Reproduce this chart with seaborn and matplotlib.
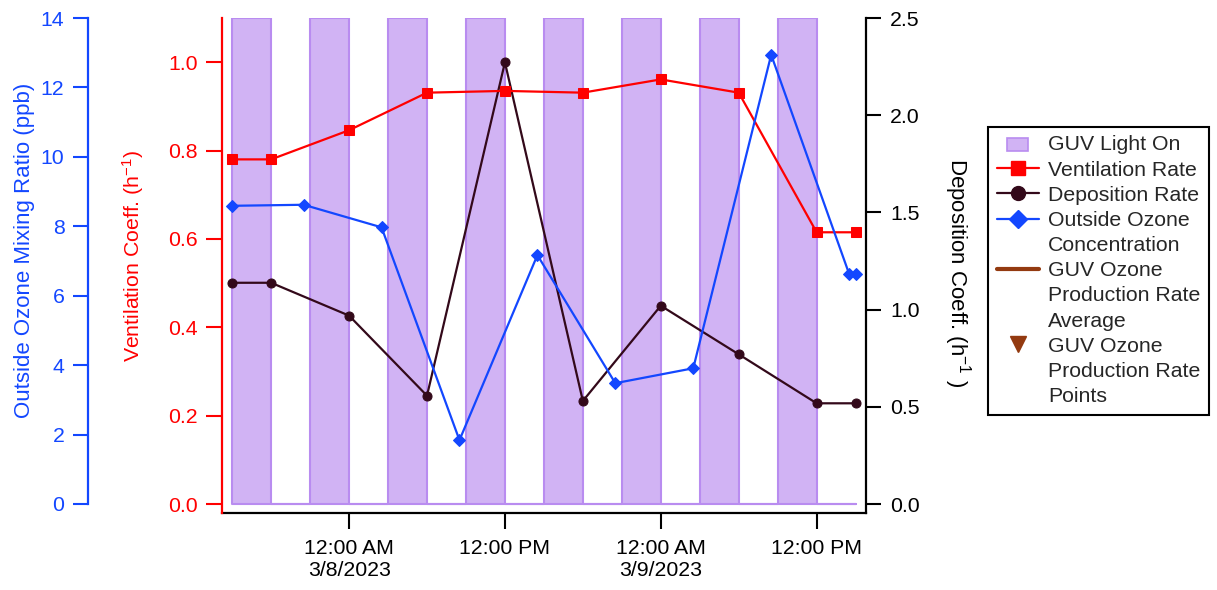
import numpy as np
import pandas as pd
import matplotlib
matplotlib.use("Agg")
import matplotlib.pyplot as plt
from matplotlib.lines import Line2D
from matplotlib.patches import Patch, Rectangle
from matplotlib.legend_handler import HandlerPatch
from matplotlib.ticker import FormatStrFormatter
import seaborn as sns

# ---------------- data ----------------
light_times = ["2023-03-07 15:00", "2023-03-07 18:00", "2023-03-07 21:00", "2023-03-08 00:00",
               "2023-03-08 03:00", "2023-03-08 06:00", "2023-03-08 09:00", "2023-03-08 12:00",
               "2023-03-08 15:00", "2023-03-08 18:00", "2023-03-08 21:00", "2023-03-09 00:00",
               "2023-03-09 03:00", "2023-03-09 06:00", "2023-03-09 09:00", "2023-03-09 12:00",
               "2023-03-09 15:00"]
light_on = [1, 0, 1, 0, 1, 0, 1, 0, 1, 0, 1, 0, 1, 0, 1, 0, 0]

rate_times = ["2023-03-07 15:00", "2023-03-07 18:00", "2023-03-08 00:00", "2023-03-08 06:00",
              "2023-03-08 12:00", "2023-03-08 18:00", "2023-03-09 00:00", "2023-03-09 06:00",
              "2023-03-09 12:00", "2023-03-09 15:00"]
ventilation_rate = [0.780, 0.780, 0.846, 0.931, 0.935, 0.931, 0.961, 0.931, 0.615, 0.615]
deposition_rate = [1.138, 1.138, 0.969, 0.557, 2.272, 0.530, 1.020, 0.770, 0.518, 0.518]

ozone_times = ["2023-03-07 15:00", "2023-03-07 20:30", "2023-03-08 02:30", "2023-03-08 08:30",
               "2023-03-08 14:30", "2023-03-08 20:30", "2023-03-09 02:30", "2023-03-09 08:30",
               "2023-03-09 14:30", "2023-03-09 15:00"]
ozone_ppb = [8.59, 8.62, 7.97, 1.84, 7.17, 3.48, 3.91, 12.94, 6.63, 6.63]

x_ticks = ["2023-03-08 00:00", "2023-03-08 12:00", "2023-03-09 00:00", "2023-03-09 12:00"]
x_tick_labels = ["12:00 AM\n3/8/2023", "12:00 PM", "12:00 AM\n3/9/2023", "12:00 PM"]
x_limits = ["2023-03-07 14:13", "2023-03-09 15:48"]

# legend: each entry's text lines (first line carries the symbol)
legend_entries = [["GUV Light On"], ["Ventilation Rate"], ["Deposition Rate"],
                  ["Outside Ozone", "Concentration"],
                  ["GUV Ozone", "Production Rate", "Average"],
                  ["GUV Ozone", "Production Rate", "Points"]]

# ---------------- style ----------------
sns.set_theme(style="ticks")
plt.rcParams["font.family"] = ["Liberation Sans", "DejaVu Sans"]
plt.rcParams["mathtext.fontset"] = "custom"
plt.rcParams["mathtext.rm"] = "Liberation Sans"
plt.rcParams["mathtext.it"] = "Liberation Sans"
plt.rcParams["mathtext.bf"] = "Liberation Sans"

RED = "#FF0000"
BLUE = "#1347FF"
DARK = "#33091A"
BROWN = "#933A10"
FILL = "#D1B3F4"
EDGE = "#B98CF0"
FS = 15.3
PX = 72 / 100  # points per pixel

fig = plt.figure(figsize=(12.17, 5.90), dpi=100)
W, H = 1217, 590
ax = fig.add_axes([222 / W, (H - 513) / H, (866 - 222) / W, (513 - 18) / H])
ax_dep = ax.twinx()
ax_vent = ax.twinx()
ax_oz = ax.twinx()

# light on/off steps
lt = pd.to_datetime(light_times)
ax.fill_between(lt, light_on, step="post", facecolor=FILL, edgecolor=EDGE, linewidth=1.5)
ax.set_ylim(-9 / 486, 1)
ax.set_yticks([])
for s in ["left", "right", "top"]:
    ax.spines[s].set_visible(False)
ax.spines["bottom"].set_color("black")
ax.spines["bottom"].set_linewidth(1.6)

# series
rt = pd.to_datetime(rate_times)
ot = pd.to_datetime(ozone_times)
sns.lineplot(x=rt, y=deposition_rate, ax=ax_dep, color=DARK, marker="o", markersize=6.5,
             markeredgecolor=DARK, linewidth=1.6, legend=False)
sns.lineplot(x=rt, y=ventilation_rate, ax=ax_vent, color=RED, marker="s", markersize=7,
             markeredgecolor=RED, linewidth=1.6, legend=False)
sns.lineplot(x=ot, y=ozone_ppb, ax=ax_oz, color=BLUE, marker="D", markersize=6.5,
             markeredgecolor=BLUE, linewidth=1.6, legend=False)

# x axis
ax.set_xlim(pd.to_datetime(x_limits[0]), pd.to_datetime(x_limits[1]))
ax.set_xticks(pd.to_datetime(x_ticks))
ax.set_xticklabels(x_tick_labels)
ax.tick_params(axis="x", length=11.5, width=1.5, colors="black", labelsize=FS, pad=7,
               direction="out")
ax.set_xlabel("")

# deposition axis (right)
ax_dep.set_ylim(-9 / 194.4, 2.5)
ax_dep.set_yticks(np.arange(0, 2.51, 0.5))
ax_dep.yaxis.set_major_formatter(FormatStrFormatter("%.1f"))
for s in ["left", "top", "bottom"]:
    ax_dep.spines[s].set_visible(False)
ax_dep.spines["right"].set_color("black")
ax_dep.spines["right"].set_linewidth(1.6)
ax_dep.tick_params(axis="y", length=10.5, width=1.5, colors="black", labelsize=FS, pad=7,
                   direction="out")
ax_dep.set_ylabel("Deposition Coeff. (h$^{-1}$ )", fontsize=16, color="black", rotation=270,
                  va="bottom")
ax_dep.yaxis.set_label_coords(1.118, 0.485)

# ventilation axis (left)
ax_vent.yaxis.tick_left()
ax_vent.yaxis.set_label_position("left")
ax_vent.set_ylim(-9 / 442, 1.1)
ax_vent.set_yticks(np.arange(0, 1.01, 0.2))
ax_vent.yaxis.set_major_formatter(FormatStrFormatter("%.1f"))
for s in ["right", "top", "bottom"]:
    ax_vent.spines[s].set_visible(False)
ax_vent.spines["left"].set_visible(True)
ax_vent.spines["left"].set_color(RED)
ax_vent.spines["left"].set_linewidth(1.6)
ax_vent.tick_params(axis="y", length=11.5, width=1.5, colors=RED, labelsize=FS, pad=6,
                    direction="out")
ax_vent.set_ylabel("Ventilation Coeff. (h$^{-1}$)", fontsize=FS, color=RED)
ax_vent.yaxis.set_label_coords(-0.118, 0.52)

# ozone axis (far left)
ax_oz.yaxis.tick_left()
ax_oz.yaxis.set_label_position("left")
ax_oz.set_ylim(-9 / 34.714, 14)
ax_oz.set_yticks(np.arange(0, 14.1, 2))
for s in ["right", "top", "bottom"]:
    ax_oz.spines[s].set_visible(False)
ax_oz.spines["left"].set_visible(True)
ax_oz.spines["left"].set_position(("outward", 134 * PX))
ax_oz.spines["left"].set_bounds(0, 14)
ax_oz.spines["left"].set_color(BLUE)
ax_oz.spines["left"].set_linewidth(1.6)
ax_oz.tick_params(axis="y", length=11, width=1.5, colors=BLUE, labelsize=FS, pad=6,
                  direction="out")
ax_oz.set_ylabel("Outside Ozone Mixing Ratio (ppb)", fontsize=16, color=BLUE)
ax_oz.yaxis.set_label_coords(-0.29, 0.53)

# legend
def small_rect(legend, orig_handle, xdescent, ydescent, width, height, fontsize):
    return Rectangle((-xdescent + width * 0.25, -ydescent - height * 0.05), width * 0.5,
                     height * 0.9)

symbols = [
    Patch(facecolor=FILL, edgecolor=EDGE, linewidth=1.2),
    Line2D([], [], color=RED, marker="s", markersize=10, linewidth=1.6),
    Line2D([], [], color=DARK, marker="o", markersize=10, linewidth=1.6),
    Line2D([], [], color=BLUE, marker="D", markersize=9.5, linewidth=1.6),
    Line2D([], [], color=BROWN, linewidth=3),
    Line2D([], [], color=BROWN, marker="v", markersize=11, linestyle="none"),
]
handles, labels = [], []
for sym, lines in zip(symbols, legend_entries):
    for i, line in enumerate(lines):
        handles.append(sym if i == 0 else Line2D([], [], linestyle="none"))
        labels.append(line)

leg = fig.legend(handles, labels, loc="upper left",
                 bbox_to_anchor=(988 / W, 1 - 127 / H), borderaxespad=0, frameon=True,
                 fancybox=False, framealpha=1, edgecolor="black", fontsize=FS,
                 labelspacing=0.29, handlelength=2.0, handletextpad=0.42, borderpad=0.4,
                 handler_map={Patch: HandlerPatch(patch_func=small_rect)})
leg.get_frame().set_linewidth(1.5)

fig.savefig("out.png", dpi=100)
